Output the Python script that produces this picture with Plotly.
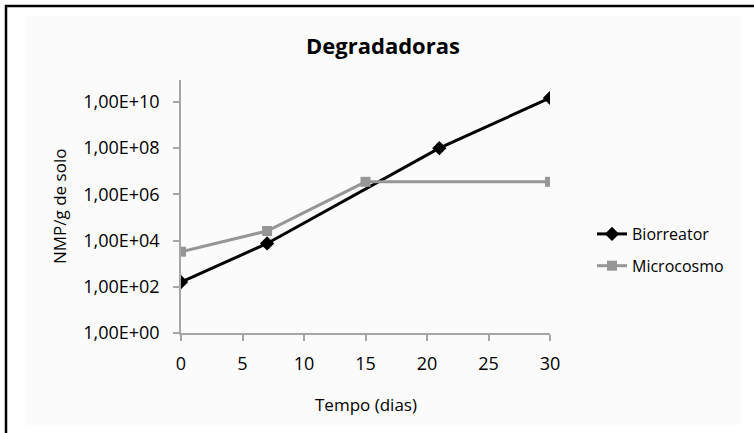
import plotly.graph_objects as go

# Microbial counts (NMP/g de solo) over time
days_bio = [0, 7, 21, 30]
bio_counts = [1.6e2, 7.5e3, 1.0e8, 1.5e10]

days_micro = [0, 7, 15, 30]
micro_counts = [3.3e3, 2.6e4, 3.5e6, 3.5e6]

x_ticks = [0, 5, 10, 15, 20, 25, 30]
y_tickvals = [1e0, 1e2, 1e4, 1e6, 1e8, 1e10]
y_ticktext = ["1,00E+00", "1,00E+02", "1,00E+04", "1,00E+06", "1,00E+08", "1,00E+10"]

W, H = 754, 433
L, R, T, B = 181, 204, 80, 100
PW, PH = W - L - R, H - T - B


def px(x):
    return (x - L) / PW


def py(y):
    return (H - B - y) / PH


FONT = "Open Sans, Liberation Sans, sans-serif"
AXIS = "#a6a6a6"

fig = go.Figure()
fig.add_trace(go.Scatter(
    x=days_bio, y=bio_counts, name="Biorreator", mode="lines+markers",
    line=dict(color="#000000", width=3),
    marker=dict(symbol="diamond", size=11, color="#000000"),
    legendgroup="a",
))
fig.add_trace(go.Scatter(
    x=days_micro, y=micro_counts, name="Microcosmo", mode="lines+markers",
    line=dict(color="#969696", width=3),
    marker=dict(symbol="square", size=10, color="#969696"),
    legendgroup="b",
))

shapes = [
    # light chart area
    dict(type="rect", xref="paper", yref="paper", layer="below",
         x0=px(26), x1=px(741), y0=py(425), y1=py(16),
         fillcolor="#fbfbfb", line=dict(width=0)),
    # outer frame
    dict(type="rect", xref="paper", yref="paper", layer="below",
         x0=px(6), x1=px(770), y0=py(450), y1=py(6),
         fillcolor="rgba(0,0,0,0)", line=dict(color="#000000", width=2.5)),
]

annotations = [
    dict(text="<b>Degradadoras</b>", xref="paper", yref="paper",
         x=px(383), y=py(45), xanchor="center", yanchor="middle", showarrow=False,
         font=dict(family=FONT, size=22, color="#000000")),
    dict(text="Tempo (dias)", xref="paper", yref="paper",
         x=px(366), y=py(404), xanchor="center", yanchor="middle", showarrow=False,
         font=dict(family=FONT, size=17, color="#000000")),
    dict(text="NMP/g de solo", xref="paper", yref="paper",
         x=px(59), y=py(206), xanchor="center", yanchor="middle", showarrow=False,
         textangle=-90,
         font=dict(family=FONT, size=17, color="#000000")),
]

fig.update_layout(
    width=W, height=H,
    margin=dict(l=L, r=R, t=T, b=B, pad=0),
    paper_bgcolor="#ffffff",
    plot_bgcolor="rgba(0,0,0,0)",
    font=dict(family=FONT, size=17, color="#000000"),
    showlegend=True,
    legend=dict(x=px(592), y=py(217), xanchor="left", yanchor="top",
                bgcolor="rgba(0,0,0,0)", tracegroupgap=8,
                font=dict(family=FONT, size=16, color="#000000")),
    shapes=shapes,
    annotations=annotations,
)

fig.update_xaxes(
    range=[0, 30], tickvals=x_ticks, showgrid=False, zeroline=False,
    showline=True, linecolor=AXIS, linewidth=1.5,
    ticks="outside", ticklen=6, tickcolor=AXIS, tickwidth=1.5,
    ticklabelstandoff=8, tickfont=dict(size=18),
)
fig.update_yaxes(
    type="log", range=[0, 10.95], tickvals=y_tickvals, ticktext=y_ticktext,
    showgrid=False, zeroline=False,
    showline=True, linecolor=AXIS, linewidth=1.5,
    ticks="outside", ticklen=6, tickcolor=AXIS, tickwidth=1.5,
    ticklabelstandoff=10, tickfont=dict(size=18),
)

fig.write_html("out.html")
